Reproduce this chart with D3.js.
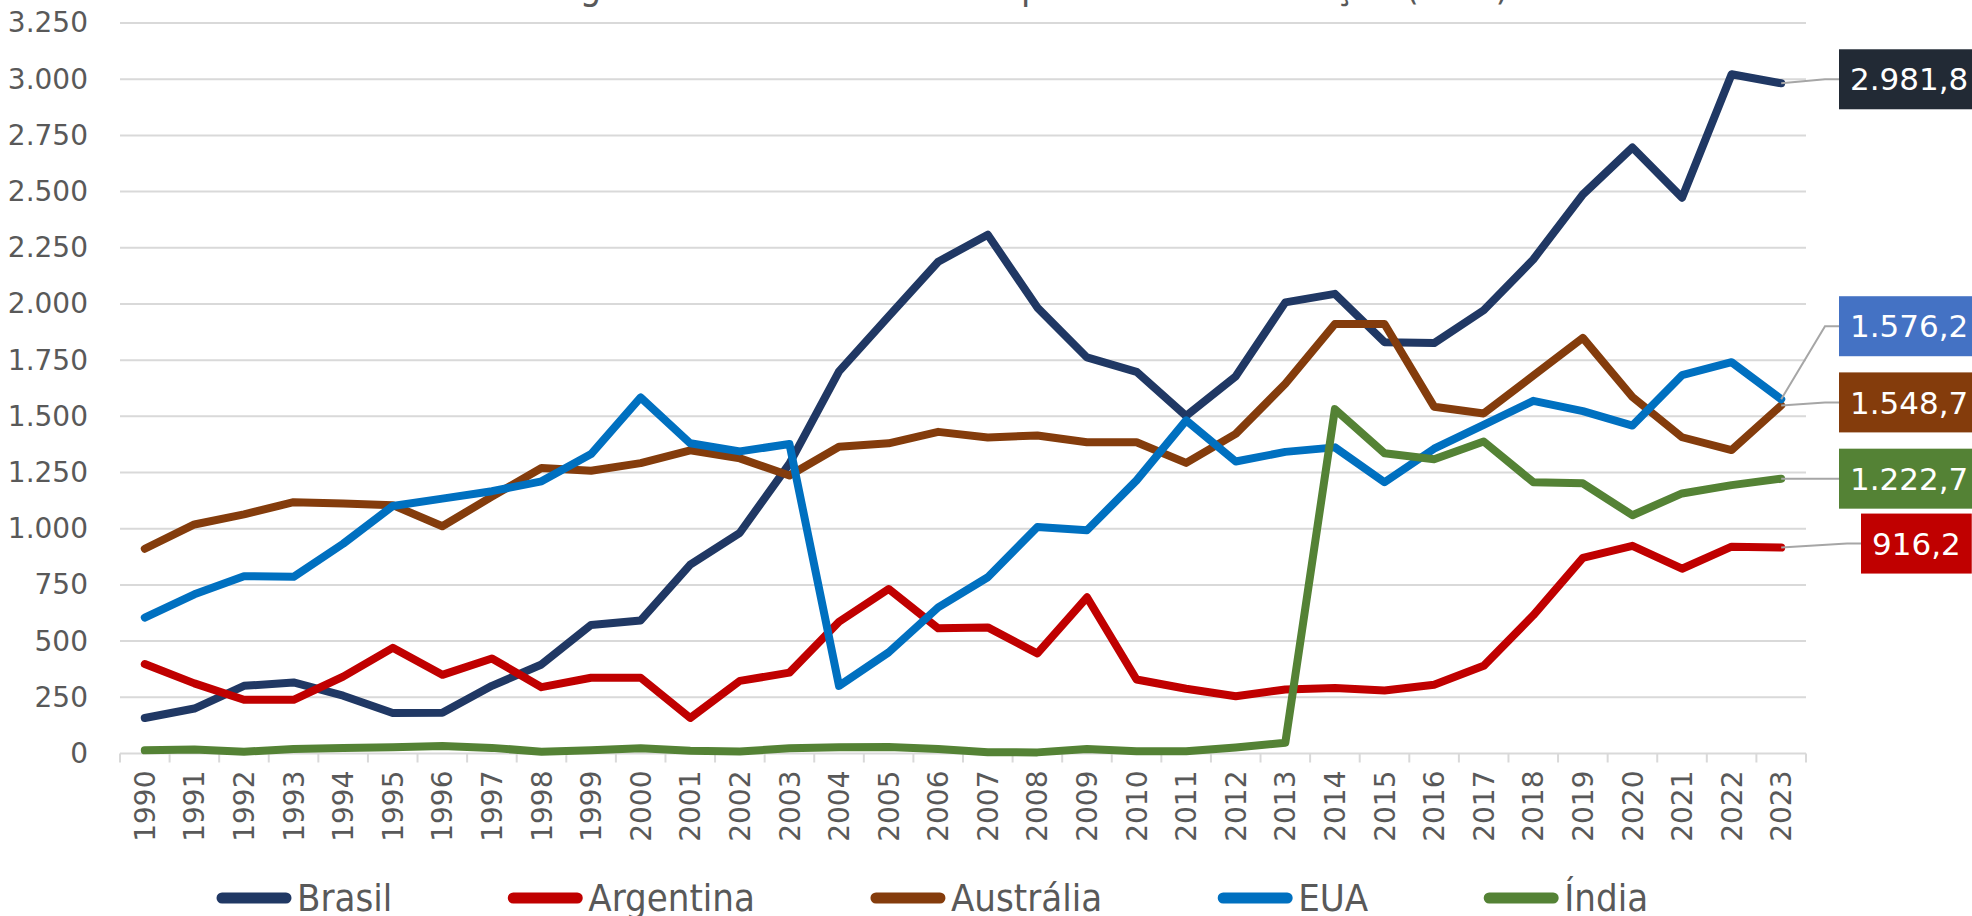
<!DOCTYPE html>
<html>
<head>
<meta charset="utf-8">
<script src="https://cdn.jsdelivr.net/npm/d3@7"></script>
<style>
  html, body { margin: 0; padding: 0; background: #fff; overflow: hidden; }
</style>
</head>
<body>
<div id="chart"></div>
<script>
// Data
var years = d3.range(1990, 2024).map(String);
var seriesNames = ["Brasil", "Argentina", "Austrália", "EUA", "Índia"];
var brasil = [158, 200, 301, 316, 257, 180, 181, 301, 396, 572, 592, 840, 982, 1290, 1700, 1945, 2188,
  2308, 1984, 1762, 1698, 1502, 1678, 2007, 2045, 1830, 1826, 1972, 2198, 2487, 2696, 2473, 3022, 2981.8];
var argentina = [398, 312, 239, 239, 342, 470, 350, 423, 295, 337, 337, 158, 323, 360, 586, 732, 557,
  561, 445, 695, 329, 288, 255, 285, 291, 280, 306, 390, 615, 870, 924, 822, 920, 916.2];
var australia = [911, 1019, 1064, 1118, 1112, 1105, 1011, 1143, 1270, 1258, 1292, 1349, 1313, 1237, 1365, 1380, 1431,
  1406, 1415, 1385, 1385, 1293, 1422, 1645, 1911, 1911, 1543, 1513, 1681, 1849, 1586, 1407, 1350, 1548.7];
var eua = [605, 708, 789, 786, 933, 1101, 1134, 1167, 1211, 1332, 1584, 1380, 1344, 1377, 301, 450, 650,
  784, 1008, 993, 1215, 1482, 1299, 1342, 1362, 1207, 1356, 1462, 1569, 1523, 1459, 1683, 1741, 1576.2];
var india = [14, 18, 8, 20, 24, 28, 33, 25, 8, 14, 23, 12, 9, 23, 28, 29, 20,
  6, 5, 20, 10, 10, 27, 48, 1532, 1336, 1309, 1388, 1207, 1202, 1060, 1157, 1194, 1222.7];
var yTicks = [0, 250, 500, 750, 1000, 1250, 1500, 1750, 2000, 2250, 2500, 2750, 3000, 3250];
var lastLabels = ["2.981,8", "916,2", "1.548,7", "1.576,2", "1.222,7"];

var lineColors = ["#203864", "#c00000", "#843c0c", "#0070c0", "#548235"];
var boxColors = ["#222a35", "#c00000", "#843c0c", "#4472c4", "#548235"];
// label box placement tweaks (pixels), like a hand-moved Excel label
var labelShift = [-4, -4, -3, -73, 0];
var labelLeft = [1839, 1861, 1839, 1839, 1839];

var allSeries = [brasil, argentina, australia, eua, india];

// Dimensions
var W = 1972, H = 916;
var plot = { left: 120, right: 1806, top: 23, bottom: 753.5 };
var textColor = "#595959";
var gridColor = "#d9d9d9";
var axisFont = "'DejaVu Sans', Verdana, sans-serif";
var condFont = "'DejaVu Sans Condensed', 'DejaVu Sans', sans-serif";

var svg = d3.select("#chart")
  .append("svg")
    .attr("width", W)
    .attr("height", H);

// Scales
var x = d3.scaleBand()
  .domain(years)
  .range([plot.left, plot.right]);
var y = d3.scaleLinear()
  .domain([0, 3250])
  .range([plot.bottom, plot.top]);

function cx(d) { return x(d) + x.bandwidth() / 2; }

// Title (mostly above the visible area, as in the picture)
svg.append("text")
  .attr("x", 986)
  .attr("y", -1)
  .attr("text-anchor", "middle")
  .style("font-family", condFont)
  .style("font-size", "38px")
  .style("fill", textColor)
  .text("Ranking mundial dos maiores exportadores - evolução (mil t)");

// Gridlines
svg.append("g")
  .selectAll("line")
  .data(yTicks.filter(function (d) { return d > 0; }))
  .enter()
  .append("line")
    .attr("x1", plot.left)
    .attr("x2", plot.right)
    .attr("y1", function (d) { return y(d); })
    .attr("y2", function (d) { return y(d); })
    .style("stroke", gridColor)
    .style("stroke-width", 2);

// Y axis labels
var yAxis = svg.append("g")
  .attr("transform", "translate(" + (plot.left - 32) + ",0)")
  .call(d3.axisLeft(y).tickValues(yTicks).tickSize(0).tickPadding(0)
    .tickFormat(function (d) { return d3.format(",")(d).replace(/,/g, "."); }));
yAxis.select(".domain").remove();
yAxis.selectAll("text")
  .style("font-family", axisFont)
  .style("font-size", "28px")
  .style("fill", textColor);

// X axis: baseline and ticks at band boundaries
svg.append("line")
  .attr("x1", plot.left)
  .attr("x2", plot.right)
  .attr("y1", y(0))
  .attr("y2", y(0))
  .style("stroke", gridColor)
  .style("stroke-width", 2);

var bounds = years.map(function (d) { return x(d); }).concat([plot.right]);
svg.append("g")
  .selectAll("line")
  .data(bounds)
  .enter()
  .append("line")
    .attr("x1", function (d) { return d; })
    .attr("x2", function (d) { return d; })
    .attr("y1", y(0))
    .attr("y2", y(0) + 9)
    .style("stroke", gridColor)
    .style("stroke-width", 2);

svg.append("g")
  .selectAll("text")
  .data(years)
  .enter()
  .append("text")
    .attr("transform", function (d) { return "translate(" + cx(d) + "," + (y(0) + 17) + ") rotate(-90)"; })
    .attr("text-anchor", "end")
    .attr("dy", "0.36em")
    .style("font-family", axisFont)
    .style("font-size", "28px")
    .style("fill", textColor)
    .text(function (d) { return d; });

// Lines
var line = d3.line()
  .x(function (d, i) { return cx(years[i]); })
  .y(function (d) { return y(d); });

svg.append("g")
  .selectAll("path")
  .data(allSeries)
  .enter()
  .append("path")
    .attr("d", line)
    .style("fill", "none")
    .style("stroke", function (d, i) { return lineColors[i]; })
    .style("stroke-width", 8)
    .style("stroke-linejoin", "round")
    .style("stroke-linecap", "round");

// End labels with leader lines
var lastYear = years[years.length - 1];
var labels = svg.append("g");
allSeries.forEach(function (s, i) {
  var px = cx(lastYear), py = y(s[s.length - 1]);
  var by = py + labelShift[i];
  var bx = labelLeft[i];

  labels.append("polyline")
    .attr("points", [[px, py], [bx - 14, by], [bx, by]].join(" "))
    .style("fill", "none")
    .style("stroke", "#a6a6a6")
    .style("stroke-width", 2);

  var g = labels.append("g");
  var rect = g.append("rect")
    .attr("x", bx)
    .attr("y", by - 30)
    .attr("height", 60)
    .style("fill", boxColors[i]);
  var t = g.append("text")
    .attr("x", bx + 11)
    .attr("y", by)
    .attr("dy", "0.36em")
    .style("font-family", axisFont)
    .style("font-size", "31px")
    .style("fill", "#fff")
    .text(lastLabels[i]);
  rect.attr("width", t.node().getComputedTextLength() + 22);
});

// Legend
var legend = svg.append("g");
var lx = 216, ly = 898;
seriesNames.forEach(function (name, i) {
  legend.append("line")
    .attr("x1", lx + 6)
    .attr("x2", lx + 70)
    .attr("y1", ly)
    .attr("y2", ly)
    .style("stroke", lineColors[i])
    .style("stroke-width", 11)
    .style("stroke-linecap", "round");
  var t = legend.append("text")
    .attr("x", lx + 81)
    .attr("y", ly + 13)
    .style("font-family", condFont)
    .style("font-size", "38px")
    .style("fill", textColor)
    .text(name);
  lx += 81 + t.node().getComputedTextLength() + 115;
});
</script>
</body>
</html>
